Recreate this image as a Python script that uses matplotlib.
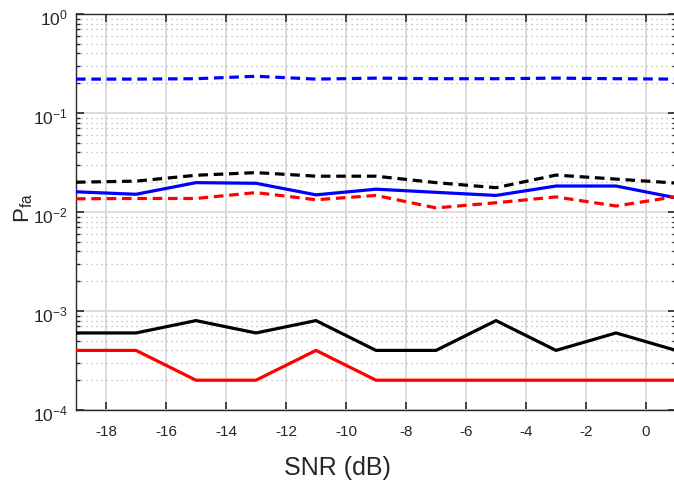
import matplotlib
matplotlib.use("Agg")
import matplotlib.pyplot as plt
from matplotlib.ticker import LogLocator, NullFormatter, FixedLocator
from matplotlib.transforms import ScaledTranslation

plt.rcParams['font.family'] = ['Liberation Sans', 'DejaVu Sans']
plt.rcParams['mathtext.fontset'] = 'custom'
plt.rcParams['mathtext.rm'] = 'Liberation Sans'

snr = [-19, -17, -15, -13, -11, -9, -7, -5, -3, -1, 1]

pfa_black_solid = [6e-4, 6e-4, 8e-4, 6e-4, 8e-4, 4e-4, 4e-4, 8e-4, 4e-4, 6e-4, 4e-4]
pfa_red_solid = [4e-4, 4e-4, 2e-4, 2e-4, 4e-4, 2e-4, 2e-4, 2e-4, 2e-4, 2e-4, 2e-4]
pfa_blue_solid = [1.60e-2, 1.51e-2, 1.98e-2, 1.95e-2, 1.49e-2, 1.70e-2,
                  1.58e-2, 1.47e-2, 1.83e-2, 1.83e-2, 1.39e-2]
pfa_black_dash = [2.00e-2, 2.05e-2, 2.35e-2, 2.50e-2, 2.30e-2, 2.30e-2,
                  1.98e-2, 1.76e-2, 2.36e-2, 2.15e-2, 1.96e-2]
pfa_red_dash = [1.36e-2, 1.37e-2, 1.37e-2, 1.57e-2, 1.33e-2, 1.47e-2,
                1.10e-2, 1.24e-2, 1.42e-2, 1.15e-2, 1.43e-2]
pfa_blue_dash = [0.220, 0.220, 0.222, 0.235, 0.220, 0.225,
                 0.222, 0.222, 0.225, 0.222, 0.220]

x_ticks = [-18, -16, -14, -12, -10, -8, -6, -4, -2, 0]

fig = plt.figure(figsize=(6.74, 4.91), dpi=100)
W, H = 674, 491
ax = fig.add_axes([76 / W, (H - 410) / H, 600 / W, 396 / H])

lw = 2.3
dash = (3.0, 1.8)
ax.plot(snr, pfa_blue_dash, color='#0000ff', lw=lw, dashes=dash, zorder=3)
ax.plot(snr, pfa_black_dash, color='black', lw=lw, dashes=dash, zorder=3)
ax.plot(snr, pfa_blue_solid, color='#0000ff', lw=lw, zorder=3)
ax.plot(snr, pfa_red_dash, color='#ff0000', lw=lw, dashes=dash, zorder=3)
ax.plot(snr, pfa_black_solid, color='black', lw=lw, zorder=3)
ax.plot(snr, pfa_red_solid, color='#ff0000', lw=lw, zorder=3)

ax.set_yscale('log')
ax.set_xlim(-19, 1)
ax.set_ylim(1e-4, 1)
ax.xaxis.set_major_locator(FixedLocator(x_ticks))
ax.set_xticklabels([str(v) for v in x_ticks])
ax.yaxis.set_major_locator(LogLocator(base=10, numticks=10))
ax.yaxis.set_minor_locator(LogLocator(base=10, subs=range(2, 10), numticks=20))
ax.yaxis.set_minor_formatter(NullFormatter())

ax.grid(True, which='major', color='#dcdcdc', lw=1.4, ls='-', zorder=0)
ax.grid(True, which='minor', axis='y', color='#b5b5b5', lw=0.9, ls=(0, (1, 3)), zorder=0)

ax.tick_params(axis='both', which='both', direction='in', top=True, right=True,
               colors='#262626')
ax.tick_params(which='major', length=6, width=1.2)
ax.tick_params(which='minor', length=3, width=1.0)
ax.tick_params(axis='x', pad=11, labelsize=11)
ax.tick_params(axis='y', pad=6, labelsize=12.5)
for s in ax.spines.values():
    s.set_color('#262626')
    s.set_linewidth(1.0)

ax.set_xlabel('SNR (dB)', fontsize=18, color='#262626')
ax.xaxis.set_label_coords((337 - 76) / 600, -(456 - 410) / 396)
ax.set_ylabel(r'$\mathrm{P_{fa}}$', fontsize=16, color='#262626')
ax.yaxis.set_label_coords((35 - 76) / 600, 0.51)

fig.canvas.draw()
shift = ScaledTranslation(0, -3 / 100, fig.dpi_scale_trans)
for lab in ax.yaxis.get_majorticklabels():
    lab.set_transform(lab.get_transform() + shift)

fig.savefig('out.png', dpi=100)
